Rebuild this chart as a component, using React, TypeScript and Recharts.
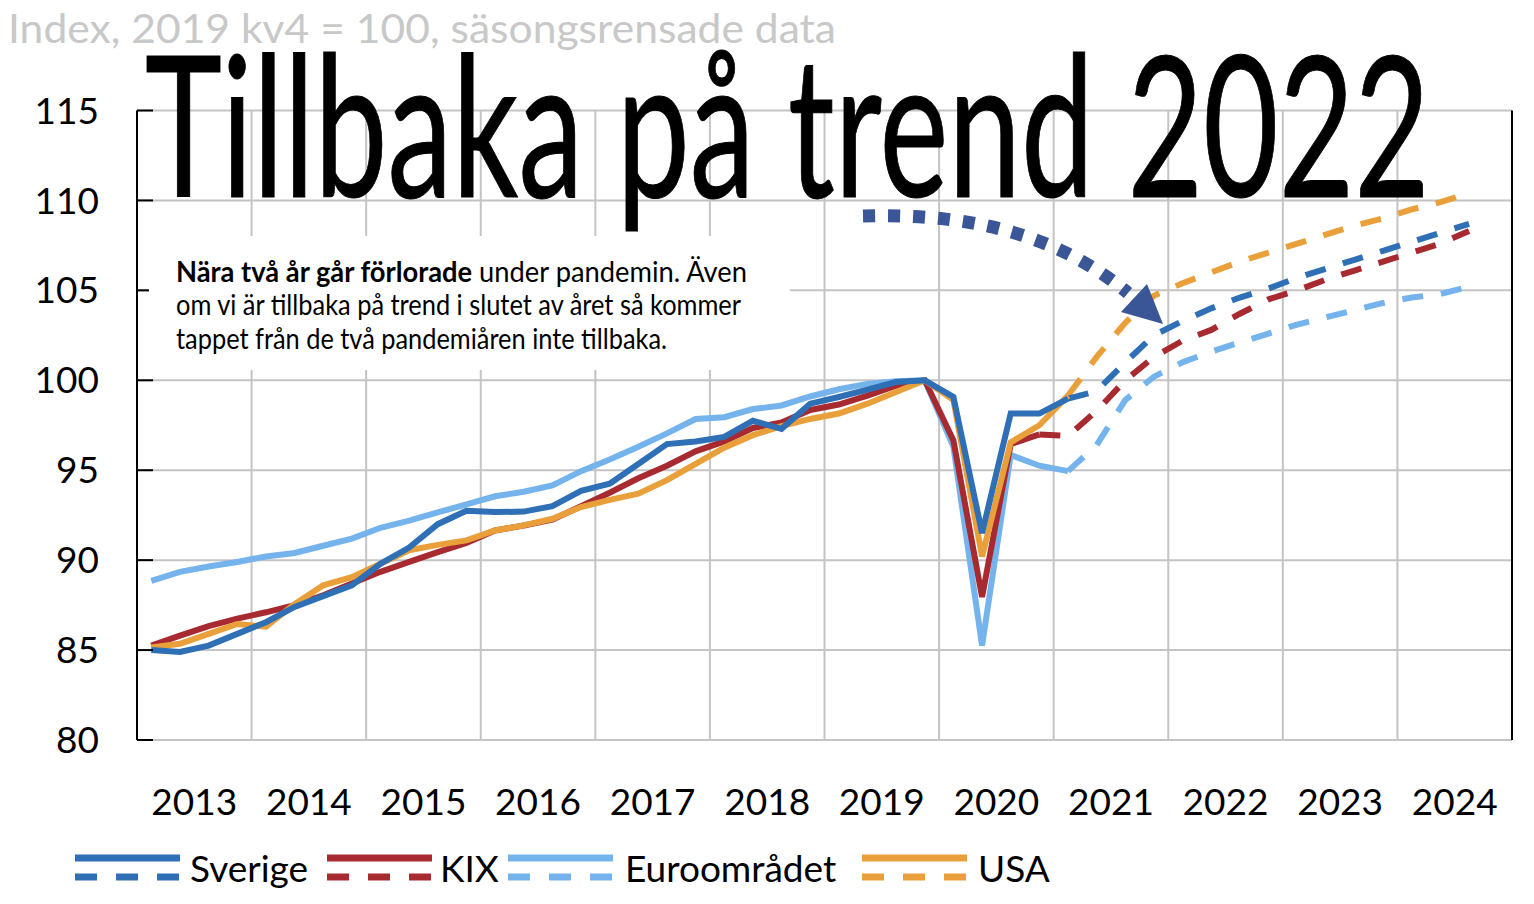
import React from 'react'
import { LineChart, Line, XAxis, YAxis, CartesianGrid, ReferenceLine } from 'recharts'

const years = [2013, 2014, 2015, 2016, 2017, 2018, 2019, 2020, 2021, 2022, 2023, 2024]
const quarters = years.flatMap((y) => [1, 2, 3, 4].map((q) => `${y} kv${q}`))

// utfall, från 2013 kv1
const sverige = [
  85.0, 84.9, 85.25, 85.9, 86.55, 87.4, 88.0, 88.6, 89.8, 90.7, 92.0, 92.75,
  92.67, 92.7, 93.0, 93.85, 94.25, 95.35, 96.45, 96.6, 96.85, 97.75, 97.3, 98.7,
  99.07, 99.48, 99.9, 100, 99.07, 91.5, 98.15, 98.15, 98.98,
]
const kix = [
  85.25, 85.8, 86.33, 86.75, 87.1, 87.5, 88.05, 88.7, 89.35, 89.9, 90.45, 90.95,
  91.65, 91.93, 92.25, 93.0, 93.75, 94.55, 95.25, 96.05, 96.6, 97.35, 97.65, 98.35,
  98.65, 99.15, 99.7, 100, 96.66, 87.95, 96.45, 96.99,
]
const euro = [
  88.85, 89.35, 89.65, 89.9, 90.2, 90.4, 90.8, 91.2, 91.8, 92.2, 92.65, 93.1,
  93.55, 93.8, 94.15, 94.95, 95.6, 96.3, 97.05, 97.85, 97.95, 98.4, 98.6, 99.1,
  99.5, 99.8, 99.95, 100, 96.3, 85.25, 95.85, 95.25, 94.95,
]
const usa = [
  85.15, 85.35, 85.9, 86.45, 86.3, 87.55, 88.6, 89.05, 89.8, 90.55, 90.85, 91.1,
  91.65, 91.93, 92.3, 92.95, 93.35, 93.7, 94.45, 95.35, 96.25, 96.95, 97.45, 97.85,
  98.15, 98.7, 99.35, 100, 98.9, 90.2, 96.55, 97.5, 99.15,
]

// prognoser (streckat), från sista utfallet
const sverigeProgStart = '2021 kv1'
const sverigeProg = [98.98, 99.4, 101.0, 102.5, 103.3, 104.0, 104.6, 105.1, 105.7, 106.2, 106.7, 107.2, 107.7, 108.2, 108.7]
const kixProgStart = '2020 kv4'
const kixProg = [96.99, 96.9, 98.3, 100.0, 101.3, 102.2, 102.8, 103.7, 104.5, 105.0, 105.6, 106.1, 106.6, 107.1, 107.6, 108.3]
const euroProgStart = '2021 kv1'
const euroProg = [94.95, 96.4, 98.9, 100.2, 101.0, 101.6, 102.1, 102.6, 103.1, 103.5, 103.9, 104.3, 104.6, 104.8, 105.2]
const usaProgStart = '2021 kv1'
const usaProg = [99.15, 101.3, 103.2, 104.7, 105.4, 106.0, 106.6, 107.1, 107.6, 108.1, 108.6, 109.0, 109.5, 109.9, 110.4]

const yTicks = [80, 85, 90, 95, 100, 105, 110, 115]

const series = [
  { key: 'sverige', name: 'Sverige', color: '#2e6fb5' },
  { key: 'kix', name: 'KIX', color: '#a82a31' },
  { key: 'euro', name: 'Euroområdet', color: '#74b3ec' },
  { key: 'usa', name: 'USA', color: '#e9a03b' },
]
const drawOrder = ['euro', 'kix', 'usa', 'sverige']

const prog = (arr: number[], start: string, i: number) => {
  const s = quarters.indexOf(start)
  return i >= s && i - s < arr.length ? arr[i - s] : undefined
}

const data = quarters.map((q, i) => ({
  q,
  x: i + 0.5,
  sverige: sverige[i],
  kix: kix[i],
  euro: euro[i],
  usa: usa[i],
  sverigeF: prog(sverigeProg, sverigeProgStart, i),
  kixF: prog(kixProg, kixProgStart, i),
  euroF: prog(euroProg, euroProgStart, i),
  usaF: prog(usaProg, usaProgStart, i),
}))

const yearTicks = years.map((_, i) => i * 4 + 2)
const yearBounds = years.slice(1).map((_, i) => (i + 1) * 4)

const FONT = 'Lato, "Open Sans", sans-serif'
const GRID = '#c4c4c4'

const legendPos = [
  { sample: 75, text: 190 },
  { sample: 327, text: 440 },
  { sample: 508, text: 625 },
  { sample: 862, text: 978 },
]

export default function App() {
  return (
    <div style={{ position: 'absolute', left: 0, top: 0, width: 1534, height: 904, background: '#fff' }}>
      <LineChart
        width={1534}
        height={904}
        data={data}
        margin={{ top: 110.5, right: 0, bottom: 84, left: 0 }}
      >
        <CartesianGrid horizontal vertical={false} stroke={GRID} strokeWidth={2} />
        {yearBounds.map((b) => (
          <ReferenceLine key={b} x={b} stroke={GRID} strokeWidth={2} />
        ))}
        <XAxis
          type="number"
          dataKey="x"
          domain={[0, 48]}
          ticks={yearTicks}
          tickFormatter={(t: number) => String(years[(t - 2) / 4])}
          tickLine={false}
          tickSize={0}
          tickMargin={49}
          axisLine={{ stroke: GRID, strokeWidth: 2 }}
          height={80}
          tick={{ fontSize: 37, fill: '#000', fontFamily: FONT }}
          interval={0}
        />
        <YAxis
          domain={[80, 115]}
          ticks={yTicks}
          width={137}
          tickSize={-16}
          tickMargin={54}
          axisLine={{ stroke: '#000', strokeWidth: 2 }}
          tickLine={{ stroke: '#000', strokeWidth: 2 }}
          tick={{ fontSize: 37, fill: '#000', fontFamily: FONT }}
          interval={0}
        />
        <YAxis
          yAxisId="r"
          orientation="right"
          domain={[80, 115]}
          ticks={yTicks}
          width={22}
          tickSize={-16}
          tick={false}
          axisLine={{ stroke: '#000', strokeWidth: 2 }}
          tickLine={{ stroke: '#000', strokeWidth: 2 }}
          interval={0}
        />
        {drawOrder.map((k) => {
          const s = series.find((v) => v.key === k)!
          return (
            <Line
              key={k + 'F'}
              dataKey={k + 'F'}
              stroke={s.color}
              strokeWidth={6}
              strokeDasharray="21 18"
              dot={false}
              activeDot={false}
              isAnimationActive={false}
            />
          )
        })}
        {drawOrder.map((k) => {
          const s = series.find((v) => v.key === k)!
          return (
            <Line
              key={k}
              dataKey={k}
              name={s.name}
              stroke={s.color}
              strokeWidth={6}
              dot={false}
              activeDot={false}
              isAnimationActive={false}
            />
          )
        })}
      </LineChart>

      <svg
        width={1534}
        height={904}
        style={{ position: 'absolute', left: 0, top: 0, pointerEvents: 'none' }}
      >
        <text x={8} y={43} fontFamily={FONT} fontSize={40} fill="#c8c8c8" textLength={828} lengthAdjust="spacingAndGlyphs">
          Index, 2019 kv4 = 100, säsongsrensade data
        </text>
        <text
          x={145}
          y={197}
          fontFamily={FONT}
          fontSize={196}
          fontWeight={400}
          fill="#000"
          stroke="#000"
          strokeWidth={1}
          textLength={1285}
          lengthAdjust="spacingAndGlyphs"
        >
          Tillbaka på trend 2022
        </text>

        <rect x={149} y={236} width={641} height={134} fill="#fff" />
        <text x={176} y={282} fontFamily={FONT} fontSize={28} fill="#000" textLength={571} lengthAdjust="spacingAndGlyphs">
          <tspan fontWeight={700}>Nära två år går förlorade</tspan> under pandemin. Även
        </text>
        <text x={176} y={315} fontFamily={FONT} fontSize={28} fill="#000" textLength={565} lengthAdjust="spacingAndGlyphs">
          om vi är tillbaka på trend i slutet av året så kommer
        </text>
        <text x={176} y={349} fontFamily={FONT} fontSize={28} fill="#000" textLength={491} lengthAdjust="spacingAndGlyphs">
          tappet från de två pandemiåren inte tillbaka.
        </text>

        <path
          d="M 863 216 C 990 212, 1070 245, 1128 293"
          fill="none"
          stroke="#3a5697"
          strokeWidth={13}
          strokeDasharray="12 13"
        />
        <polygon points="1121,312 1147,284 1163,324" fill="#3a5697" />

        {series.map((s, i) => (
          <g key={s.key}>
            <line x1={legendPos[i].sample} x2={legendPos[i].sample + 105} y1={858} y2={858} stroke={s.color} strokeWidth={7} />
            <line x1={legendPos[i].sample} x2={legendPos[i].sample + 105} y1={877} y2={877} stroke={s.color} strokeWidth={7} strokeDasharray="22 19" />
            <text x={legendPos[i].text} y={882} fontFamily={FONT} fontSize={37} fill="#000">
              {s.name}
            </text>
          </g>
        ))}
      </svg>
    </div>
  )
}
